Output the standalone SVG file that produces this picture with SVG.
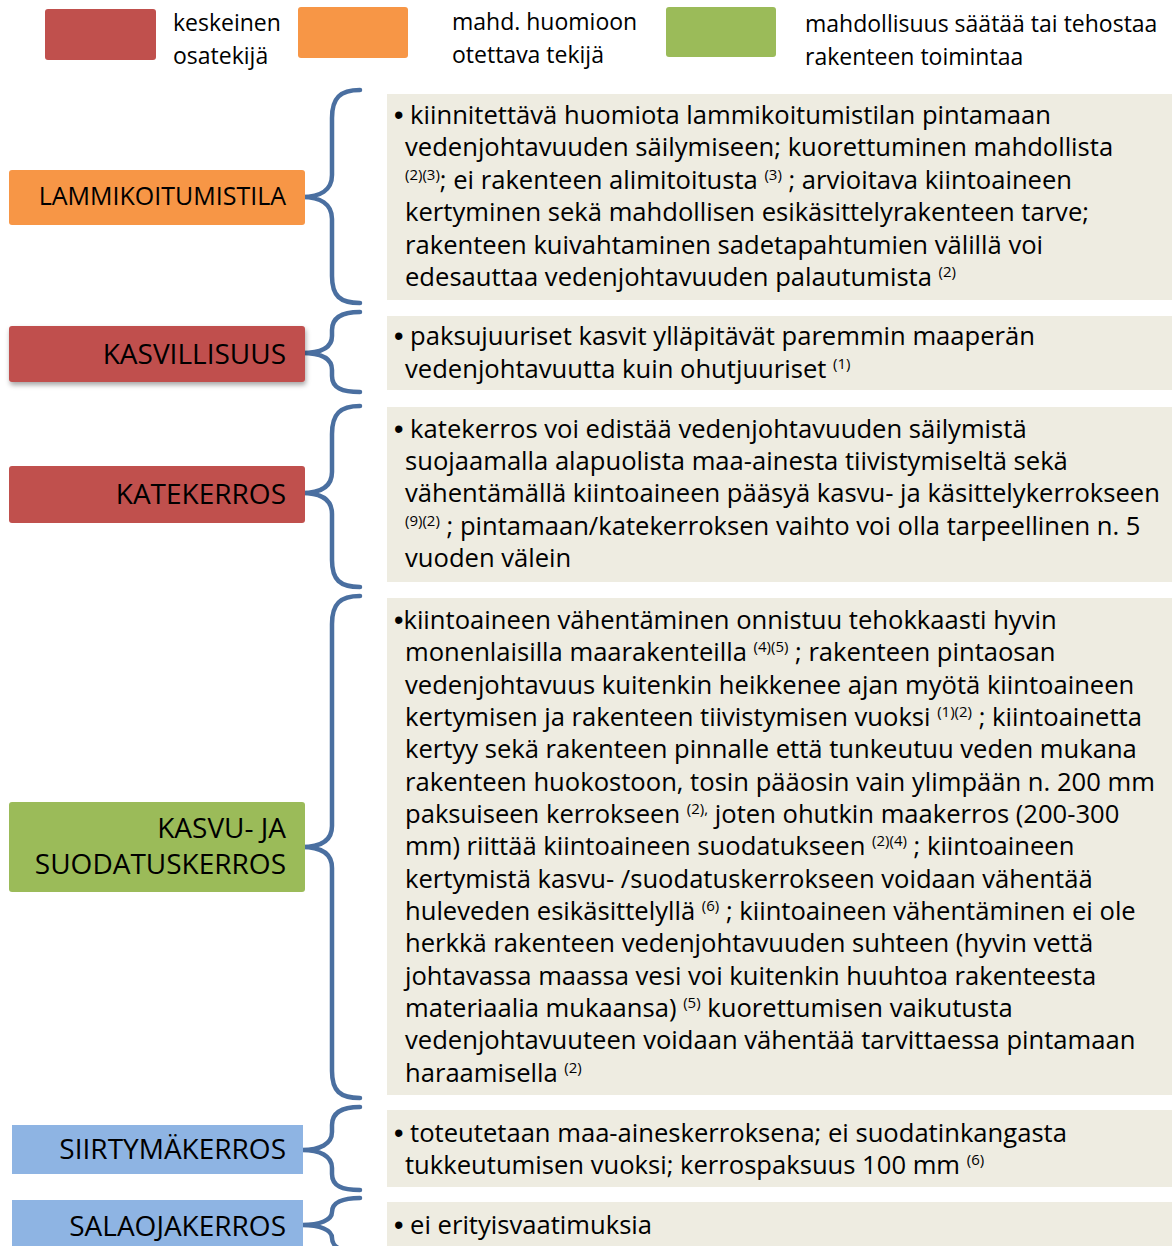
<svg xmlns="http://www.w3.org/2000/svg" width="1172" height="1246" viewBox="0 0 1172 1246">
<defs>
<filter id="sh" x="-10%" y="-20%" width="130%" height="160%">
<feDropShadow dx="1" dy="3" stdDeviation="2.5" flood-color="#000" flood-opacity="0.35"/>
</filter>
</defs>
<style>
text{font-family:"Open Sans","Liberation Sans",sans-serif;fill:#000}
.leg{font-size:23px}
.lab{font-size:28px;text-anchor:end}
.lab1{font-size:25px;text-anchor:end}
.body{font-size:25.6px}
.sup{font-size:15px}
.bul{font-family:"Liberation Sans",sans-serif;font-size:27px}
.red{fill:#C0504D}
.org{fill:#F79646}
.grn{fill:#9BBB59}
.blu{fill:#8EB4E3}
.bg{fill:#EEECE1}
.brace{fill:none;stroke:#4A6FA0;stroke-width:4.5;stroke-linecap:round;stroke-linejoin:round}
</style>
<rect width="1172" height="1246" fill="#fff"/>
<g id="legend">
<rect class="red" x="45" y="9" width="111" height="51" rx="3"/>
<text class="leg" x="173" y="31">keskeinen</text>
<text class="leg" x="173" y="64">osatekijä</text>
<rect class="org" x="298" y="7" width="110" height="51" rx="3"/>
<text class="leg" x="452" y="30">mahd. huomioon</text>
<text class="leg" x="452" y="63">otettava tekijä</text>
<rect class="grn" x="666" y="7" width="110" height="50" rx="3"/>
<text class="leg" x="805" y="32">mahdollisuus säätää tai tehostaa</text>
<text class="leg" x="805" y="65">rakenteen toimintaa</text>
</g>
<g id="connectors">
<path class="brace" d="M360,90 C340,90 332,98 332,118 L332,175 C332,190 320,197 302,197 C320,197 332,204 332,219 L332,276 C332,296 340,303 360,303"/>
<path class="brace" d="M360,312 C342,312 332,318 332,330 L332,336 C332,348 320,353 302,353 C320,353 332,358 332,370 L332,376 C332,388 342,392 360,392"/>
<path class="brace" d="M360,406 C340,406 332,414 332,434 L332,472 C332,487 320,493 302,493 C320,493 332,499 332,514 L332,560 C332,580 340,587 360,587"/>
<path class="brace" d="M360,596 C340,596 332,604 332,624 L332,826 C332,841 320,847 302,847 C320,847 332,853 332,868 L332,1071 C332,1091 340,1098 360,1098"/>
<path class="brace" d="M360,1107 C342,1107 332,1113 332,1125 L332,1132 C332,1144 320,1150 302,1150 C320,1150 332,1156 332,1168 L332,1174 C332,1186 342,1190 360,1190"/>
<path class="brace" d="M360,1198 C342,1198 332,1203 332,1212 C332,1220 320,1225 302,1225 C320,1225 332,1230 332,1238 C332,1247 342,1252 360,1252"/>
</g>
<g id="n1">
<rect class="org" x="9" y="170" width="296" height="55" rx="3"/>
<text class="lab1" x="286" y="205">LAMMIKOITUMISTILA</text>
<rect class="bg" x="387" y="94" width="785" height="206"/>
<text class="body" x="394" y="124"><tspan class="bul">•</tspan> kiinnitettävä huomiota lammikoitumistilan pintamaan</text>
<text class="body" x="405" y="156">vedenjohtavuuden säilymiseen; kuorettuminen mahdollista</text>
<text class="body" x="405" y="189"><tspan class="sup" dy="-9">(2)(3)</tspan><tspan dy="9">; ei rakenteen alimitoitusta </tspan><tspan class="sup" dy="-9">(3)</tspan><tspan dy="9"> ; arvioitava kiintoaineen</tspan></text>
<text class="body" x="405" y="221">kertyminen sekä mahdollisen esikäsittelyrakenteen tarve;</text>
<text class="body" x="405" y="254">rakenteen kuivahtaminen sadetapahtumien välillä voi</text>
<text class="body" x="405" y="286">edesauttaa vedenjohtavuuden palautumista <tspan class="sup" dy="-9">(2)</tspan></text>
</g>
<g id="n2">
<rect class="red" x="9" y="326" width="296" height="56" rx="3" filter="url(#sh)"/>
<text class="lab" x="286" y="364">KASVILLISUUS</text>
<rect class="bg" x="387" y="316" width="785" height="74"/>
<text class="body" x="394" y="345"><tspan class="bul">•</tspan> paksujuuriset kasvit ylläpitävät paremmin maaperän</text>
<text class="body" x="405" y="378">vedenjohtavuutta kuin ohutjuuriset <tspan class="sup" dy="-9">(1)</tspan></text>
</g>
<g id="n3">
<rect class="red" x="9" y="466" width="296" height="57" rx="3"/>
<text class="lab" x="286" y="504">KATEKERROS</text>
<rect class="bg" x="387" y="407" width="785" height="175"/>
<text class="body" x="394" y="438"><tspan class="bul">•</tspan> katekerros voi edistää vedenjohtavuuden säilymistä</text>
<text class="body" x="405" y="470">suojaamalla alapuolista maa-ainesta tiivistymiseltä sekä</text>
<text class="body" x="405" y="502">vähentämällä kiintoaineen pääsyä kasvu- ja käsittelykerrokseen</text>
<text class="body" x="405" y="535"><tspan class="sup" dy="-9">(9)(2)</tspan><tspan dy="9"> ; pintamaan/katekerroksen vaihto voi olla tarpeellinen n. 5</tspan></text>
<text class="body" x="405" y="567">vuoden välein</text>
</g>
<g id="n4">
<rect class="grn" x="9" y="802" width="296" height="90" rx="3"/>
<text class="lab" x="286" y="838">KASVU- JA</text>
<text class="lab" x="286" y="874">SUODATUSKERROS</text>
<rect class="bg" x="387" y="598" width="785" height="497"/>
<text class="body" x="394" y="629"><tspan class="bul">•</tspan>kiintoaineen vähentäminen onnistuu tehokkaasti hyvin</text>
<text class="body" x="405" y="661">monenlaisilla maarakenteilla <tspan class="sup" dy="-9">(4)(5)</tspan><tspan dy="9"> ; rakenteen pintaosan</tspan></text>
<text class="body" x="405" y="694">vedenjohtavuus kuitenkin heikkenee ajan myötä kiintoaineen</text>
<text class="body" x="405" y="726">kertymisen ja rakenteen tiivistymisen vuoksi <tspan class="sup" dy="-9">(1)(2)</tspan><tspan dy="9"> ; kiintoainetta</tspan></text>
<text class="body" x="405" y="758">kertyy sekä rakenteen pinnalle että tunkeutuu veden mukana</text>
<text class="body" x="405" y="791">rakenteen huokostoon, tosin pääosin vain ylimpään n. 200 mm</text>
<text class="body" x="405" y="823">paksuiseen kerrokseen <tspan class="sup" dy="-9">(2),</tspan><tspan dy="9">  joten ohutkin maakerros (200-300</tspan></text>
<text class="body" x="405" y="855">mm) riittää kiintoaineen suodatukseen <tspan class="sup" dy="-9">(2)(4)</tspan><tspan dy="9"> ; kiintoaineen</tspan></text>
<text class="body" x="405" y="888">kertymistä kasvu- /suodatuskerrokseen voidaan vähentää</text>
<text class="body" x="405" y="920">huleveden esikäsittelyllä <tspan class="sup" dy="-9">(6)</tspan><tspan dy="9"> ; kiintoaineen vähentäminen ei ole</tspan></text>
<text class="body" x="405" y="952">herkkä rakenteen vedenjohtavuuden suhteen (hyvin vettä</text>
<text class="body" x="405" y="985">johtavassa maassa vesi voi kuitenkin huuhtoa rakenteesta</text>
<text class="body" x="405" y="1017">materiaalia mukaansa) <tspan class="sup" dy="-9">(5)</tspan><tspan dy="9">  kuorettumisen vaikutusta</tspan></text>
<text class="body" x="405" y="1049">vedenjohtavuuteen voidaan vähentää tarvittaessa pintamaan</text>
<text class="body" x="405" y="1082">haraamisella <tspan class="sup" dy="-9">(2)</tspan></text>
</g>
<g id="n5">
<rect class="blu" x="12" y="1125" width="291" height="49"/>
<text class="lab" x="286" y="1159">SIIRTYMÄKERROS</text>
<rect class="bg" x="387" y="1110" width="785" height="77"/>
<text class="body" x="394" y="1142"><tspan class="bul">•</tspan> toteutetaan maa-aineskerroksena; ei suodatinkangasta</text>
<text class="body" x="405" y="1174">tukkeutumisen vuoksi; kerrospaksuus 100 mm <tspan class="sup" dy="-9">(6)</tspan></text>
</g>
<g id="n6">
<rect class="blu" x="12" y="1200" width="291" height="50"/>
<text class="lab" x="286" y="1236">SALAOJAKERROS</text>
<rect class="bg" x="387" y="1202" width="785" height="50"/>
<text class="body" x="394" y="1234"><tspan class="bul">•</tspan> ei erityisvaatimuksia</text>
</g>
</svg>
